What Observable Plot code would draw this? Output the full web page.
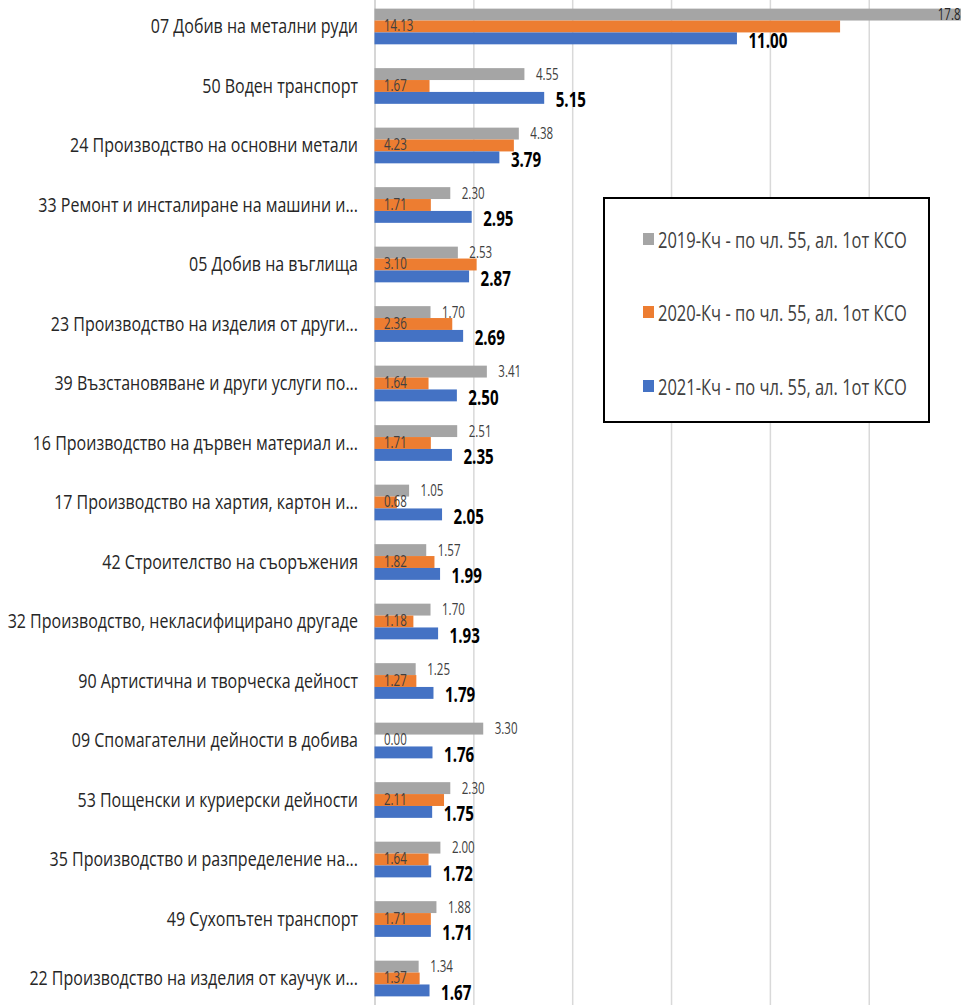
<!DOCTYPE html>
<html>
<head>
<meta charset="utf-8">
<script src="https://cdn.jsdelivr.net/npm/d3@7"></script>
<script src="https://cdn.jsdelivr.net/npm/@observablehq/plot@0.6"></script>
<style>
  html, body { margin: 0; padding: 0; background: #fff; overflow: hidden; }
  #wrap { position: relative; width: 961px; height: 1005px; }
  #legend {
    position: absolute; left: 603px; top: 197px; width: 323px; height: 222px;
    border: 2px solid #000; background: #fff; box-sizing: content-box;
    font-family: "Open Sans", "Noto Sans", sans-serif;
    font-size: 22px; color: #404040;
  }
  .item { position: absolute; left: 38px; height: 26px; display: flex; align-items: center; white-space: nowrap; }
  .sw { width: 11px; height: 12px; margin-right: 4px; display: inline-block; flex: none; }
  .lt { display: inline-block; transform: scaleX(0.75); transform-origin: 0 50%; }
</style>
</head>
<body>
<div id="wrap"><div id="legend"></div></div>
<script>
const categories = [
  "07 Добив на метални руди",
  "50 Воден транспорт",
  "24 Производство на основни метали",
  "33 Ремонт и инсталиране на машини и...",
  "05 Добив на въглища",
  "23 Производство на изделия от други...",
  "39 Възстановяване и други услуги по...",
  "16 Производство на дървен материал и...",
  "17 Производство на хартия, картон и...",
  "42 Строителство на съоръжения",
  "32 Производство, некласифицирано другаде",
  "90 Артистична и творческа дейност",
  "09 Спомагателни дейности в добива",
  "53 Пощенски и куриерски дейности",
  "35 Производство и разпределение на...",
  "49 Сухопътен транспорт",
  "22 Производство на изделия от каучук и..."
];
const values2019 = [17.8, 4.55, 4.38, 2.30, 2.53, 1.70, 3.41, 2.51, 1.05, 1.57, 1.70, 1.25, 3.30, 2.30, 2.00, 1.88, 1.34];
const values2020 = [14.13, 1.67, 4.23, 1.71, 3.10, 2.36, 1.64, 1.71, 0.68, 1.82, 1.18, 1.27, 0.00, 2.11, 1.64, 1.71, 1.37];
const values2021 = [11.00, 5.15, 3.79, 2.95, 2.87, 2.69, 2.50, 2.35, 2.05, 1.99, 1.93, 1.79, 1.76, 1.75, 1.72, 1.71, 1.67];
const seriesNames = [
  "2019-Кч - по чл. 55, ал. 1от КСО",
  "2020-Кч - по чл. 55, ал. 1от КСО",
  "2021-Кч - по чл. 55, ал. 1от КСО"
];
const seriesColors = ["#A5A5A5", "#ED7D31", "#4472C4"];
const gridTicks = [3, 6, 9, 12, 15];
const xMax = 17.8;

const rows = categories.map((c, i) => ({c, a: values2019[i], b: values2020[i], d: values2021[i]}));

const W = 961, H = 1005;
const yOpts = {type: "band", domain: categories, range: [0, H], paddingInner: 0.4, paddingOuter: 0.145, round: false};
const bw = Plot.scale({y: yOpts}).bandwidth;
const third = bw / 3;
const f2 = d3.format(".2f");
const font = '"Open Sans", "Noto Sans", sans-serif';

const chart = Plot.plot({
  width: W,
  height: H,
  marginLeft: 374.5,
  marginRight: 0,
  marginTop: 0,
  marginBottom: 0,
  style: {fontFamily: font, background: "white"},
  x: {domain: [0, xMax], axis: null},
  y: {...yOpts, label: null},
  marks: [
    Plot.ruleX(gridTicks, {stroke: "#d9d9d9", strokeWidth: 1.5}),
    Plot.ruleX([0], {stroke: "#c8c8c8", strokeWidth: 1.5}),
    Plot.axisY({tickSize: 0, tickPadding: 17, fontSize: 20, fill: "#262626", label: null}),
    Plot.barX(rows, {y: "c", x: "a", fill: seriesColors[0], insetBottom: 2 * third}),
    Plot.barX(rows, {y: "c", x: "b", fill: seriesColors[1], insetTop: third, insetBottom: third}),
    Plot.barX(rows, {y: "c", x: "d", fill: seriesColors[2], insetTop: 2 * third}),
    Plot.text(rows.filter(r => r.a < xMax), {y: "c", x: "a", text: r => f2(r.a), dy: -third, dx: 11, textAnchor: "start", fontSize: 16, fill: "#404040"}),
    Plot.text(rows.filter(r => r.a >= xMax), {y: "c", x: "a", text: r => d3.format(".1f")(r.a), dy: -third, dx: -1, textAnchor: "end", fontSize: 16, fill: "#262626"}),
    Plot.text(rows, {y: "c", frameAnchor: "left", text: r => f2(r.b), dy: -1, dx: 9, textAnchor: "start", fontSize: 16, fill: "#404040"}),
    Plot.text(rows, {y: "c", x: "d", text: r => f2(r.d), dy: third + 2, dx: 11, textAnchor: "start", fontSize: 21, fontWeight: "bold", fill: "#000"})
  ]
});
const wrap = document.getElementById("wrap");
wrap.insertBefore(chart, wrap.firstChild);

// condensed look of the original (narrow font)
chart.querySelectorAll("g[aria-label]").forEach(g => {
  const isAxis = /tick label/.test(g.getAttribute("aria-label"));
  const isText = g.getAttribute("aria-label") === "text";
  if (!isAxis && !isText) return;
  const k = isAxis ? 0.80 : 0.72;
  g.querySelectorAll("text").forEach(t => {
    const len = t.getComputedTextLength();
    if (len > 0) {
      t.setAttribute("textLength", (len * k).toFixed(2));
      t.setAttribute("lengthAdjust", "spacingAndGlyphs");
    }
  });
});

const legend = document.getElementById("legend");
const centers = [40, 113, 187];
seriesNames.forEach((name, i) => {
  const it = document.createElement("div");
  it.className = "item";
  it.style.top = (centers[i] - 13) + "px";
  const sw = document.createElement("span");
  sw.className = "sw";
  sw.style.background = seriesColors[i];
  const tx = document.createElement("span");
  tx.className = "lt";
  tx.textContent = name;
  it.appendChild(sw);
  it.appendChild(tx);
  legend.appendChild(it);
});
</script>
</body>
</html>
